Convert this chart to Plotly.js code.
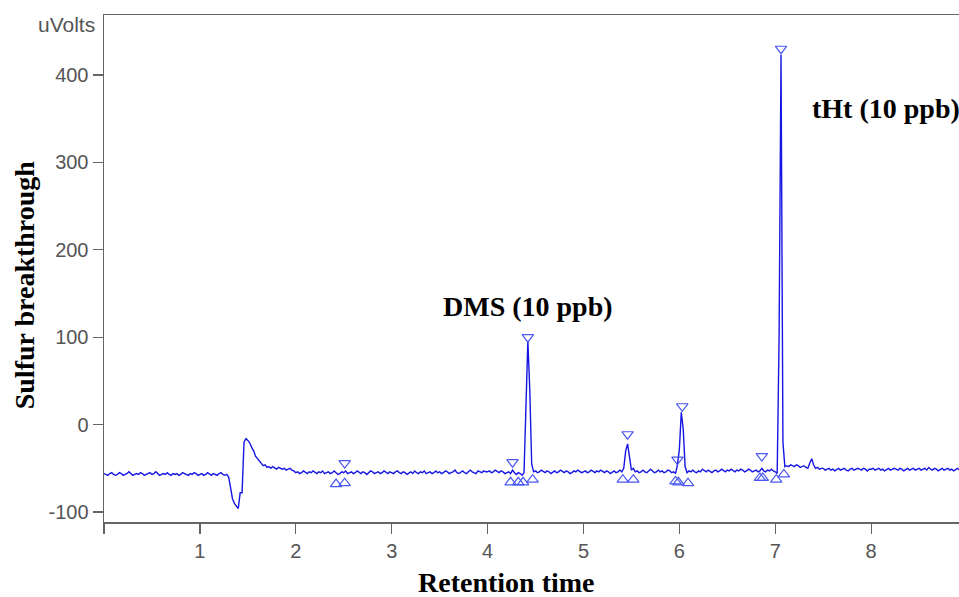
<!DOCTYPE html>
<html>
<head>
<meta charset="utf-8">
<script src="https://cdn.plot.ly/plotly-3.0.1.min.js"></script>
<style>html,body{margin:0;padding:0;background:#fff;}#chart{width:959px;height:597px;}</style>
</head>
<body>
<div id="chart"></div>
<script>
// Retention time sampling (minutes)
const retentionStart = 0;
const retentionStep = 0.02;

// Detector signal (uVolts), one value per sample, 0.00 .. 8.92 min
const signal = [
  -56,-57,-58,-56,-55,-57,-58,-57,-55,-56,-58,-57,-56,-54,-56,-58,-57,-56,-57,-55,-56,-58,-57,-56,-55,
  -57,-56,-54,-56,-58,-57,-56,-57,-55,-57,-58,-56,-57,-56,-58,-57,-55,-56,-57,-58,-56,-57,-55,-56,-58,
  -57,-56,-58,-57,-55,-57,-58,-56,-57,-58,-56,-55,-57,-58,-57,-60,-72,-85,-90,-93,-96,-78,-78,-20,-16,
  -18,-21,-26,-30,-36,-39,-42,-45,-47,-46,-49,-48,-50,-48,-50,-51,-49,-50,-51,-50,-52,-51,-50,-52,-53,
  -55,-54,-56,-55,-53,-55,-56,-54,-55,-53,-55,-56,-54,-55,-53,-56,-55,-54,-56,-55,-53,-55,-57,-56,-54,
  -55,-53,-56,-55,-54,-56,-55,-53,-55,-56,-54,-55,-57,-55,-53,-54,-56,-55,-54,-56,-55,-53,-55,-56,-54,
  -55,-56,-54,-53,-55,-56,-54,-55,-57,-55,-54,-56,-53,-55,-56,-54,-55,-53,-56,-55,-54,-56,-55,-53,-55,
  -54,-56,-55,-53,-54,-56,-55,-54,-52,-55,-56,-54,-53,-55,-56,-54,-52,-54,-55,-56,-53,-54,-55,-53,-54,
  -54,-53,-55,-54,-52,-54,-55,-53,-54,-56,-55,-54,-56,-52,-55,-57,-55,-56,-58,-55,20,96,40,-45,-54,
  -53,-55,-54,-52,-54,-55,-53,-54,-56,-54,-53,-55,-54,-52,-54,-55,-53,-54,-56,-55,-53,-54,-52,-54,-55,
  -54,-53,-55,-54,-52,-54,-55,-53,-54,-52,-54,-55,-53,-54,-56,-54,-53,-55,-54,-52,-54,-50,-30,-22,-38,
  -52,-50,-54,-53,-55,-54,-52,-54,-55,-53,-51,-53,-55,-54,-52,-54,-53,-55,-54,-52,-53,-55,-54,-56,-46,
  -28,14,-5,-48,-55,-53,-54,-52,-54,-55,-53,-54,-51,-53,-54,-52,-54,-55,-53,-52,-54,-53,-51,-53,-54,
  -52,-53,-51,-53,-54,-52,-53,-51,-52,-54,-53,-51,-52,-54,-53,-52,-54,-53,-50,-53,-54,-52,-53,-51,-53,
  -54,-56,100,423,-20,-48,-47,-48,-46,-47,-48,-46,-47,-49,-48,-47,-49,-50,-44,-39,-46,-50,-49,-51,-50,
  -50,-52,-51,-50,-52,-51,-53,-51,-50,-52,-51,-50,-52,-53,-51,-50,-52,-51,-50,-51,-52,-50,-51,-53,-51,
  -51,-50,-52,-51,-50,-52,-51,-53,-51,-50,-52,-51,-50,-51,-52,-50,-51,-53,-51,-50,-52,-51,-50,-52,-51,
  -50,-52,-51,-50,-52,-49,-51,-52,-50,-51,-53,-51,-50,-52,-51,-50,-52,-51,-53,-51,-50,-52
];

// Peak-apex markers (downward triangles)
const apexTimes = [2.51, 4.26, 4.42, 5.46, 5.98, 6.03, 6.86, 7.06];
const apexValues = [-44, -43, 100, -11, -40, 21, -36, 430];

// Peak start/end markers (upward triangles)
const boundTimes = [2.42, 2.51, 4.24, 4.32, 4.37, 4.47, 5.41, 5.52, 5.96, 5.99, 6.09, 6.84, 6.87, 7.01, 7.09];
const boundValues = [-68, -67, -66, -66, -66, -63, -63, -63, -65, -66, -67, -61, -61, -63, -57];

// Axis ticks
const xTickVals = [0, 1, 2, 3, 4, 5, 6, 7, 8];
const xTickText = ['', '1', '2', '3', '4', '5', '6', '7', '8'];
const yTickVals = [-100, 0, 100, 200, 300, 400];
const yTickText = ['-100', '0', '100', '200', '300', '400'];

// Peak labels
const peakLabels = ['DMS (10 ppb)', 'tHt (10 ppb)'];
const peakLabelX = [4.42, 8.15];
const peakLabelY = [135, 362];

const lineBlue = '#1616e4';
const markBlue = '#4a58f0';
const axisGray = '#666666';
const tickFont = {family: 'Liberation Sans, Arial, sans-serif', size: 20, color: '#555555'};
const titleFont = {family: 'Liberation Serif, Times New Roman, serif', size: 28, color: '#000000'};

const traces = [
  {
    type: 'scatter', mode: 'lines',
    x0: retentionStart, dx: retentionStep, y: signal,
    line: {color: lineBlue, width: 1.4},
    hoverinfo: 'skip', showlegend: false
  },
  {
    type: 'scatter', mode: 'markers',
    x: apexTimes, y: apexValues,
    marker: {symbol: 'triangle-down-open', size: 10, color: markBlue, line: {color: markBlue, width: 1.2}},
    showlegend: false
  },
  {
    type: 'scatter', mode: 'markers',
    x: boundTimes, y: boundValues,
    marker: {symbol: 'triangle-up-open', size: 10, color: markBlue, line: {color: markBlue, width: 1.2}},
    showlegend: false
  }
];

const annotations = peakLabels.map((t, i) => ({
  text: '<b>' + t + '</b>', x: peakLabelX[i], y: peakLabelY[i], xref: 'x', yref: 'y',
  showarrow: false, font: titleFont, xanchor: 'center', yanchor: 'middle'
}));
annotations.push({
  text: 'uVolts', xref: 'paper', yref: 'paper', x: -0.008, y: 0.982,
  xanchor: 'right', yanchor: 'middle', showarrow: false,
  font: {family: tickFont.family, size: 21, color: tickFont.color}
});
annotations.push({
  text: '<b>Sulfur breakthrough</b>', xref: 'paper', yref: 'paper', x: -0.0935, y: 0.467,
  xanchor: 'center', yanchor: 'middle', textangle: -90, showarrow: false, font: titleFont
});
annotations.push({
  text: '<b>Retention time</b>', xref: 'paper', yref: 'paper', x: 0.4713, y: -0.1203,
  xanchor: 'center', yanchor: 'middle', showarrow: false, font: titleFont
});

const layout = {
  width: 959, height: 597,
  margin: {l: 104, r: 0, t: 15, b: 75},
  paper_bgcolor: '#ffffff', plot_bgcolor: '#ffffff',
  showlegend: false,
  xaxis: {
    range: [0, 8.916], showgrid: false, zeroline: false,
    showline: true, linecolor: axisGray, linewidth: 1.5, mirror: true,
    ticks: 'outside', ticklen: 10, tickcolor: axisGray, tickwidth: 1.2,
    tickvals: xTickVals, ticktext: xTickText, tickfont: tickFont
  },
  yaxis: {
    range: [-111.4, 468.6], showgrid: false, zeroline: false,
    showline: true, linecolor: axisGray, linewidth: 1.5,
    ticks: 'outside', ticklen: 10, tickcolor: axisGray, tickwidth: 1.2,
    tickvals: yTickVals, ticktext: yTickText, tickfont: tickFont
  },
  annotations: annotations
};

Plotly.newPlot('chart', traces, layout, {staticPlot: true, displayModeBar: false});
</script>
</body>
</html>
